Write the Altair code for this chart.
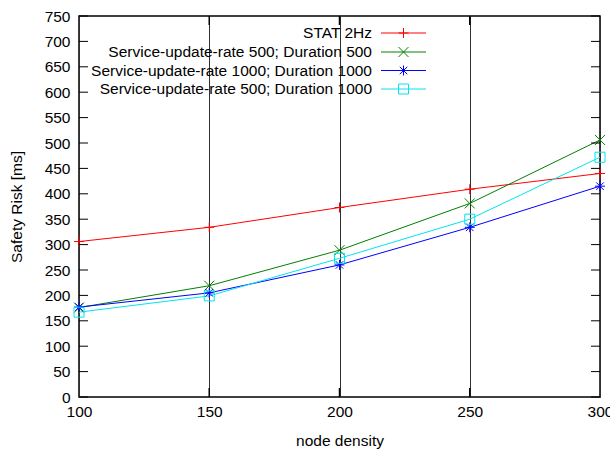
import altair as alt
import pandas as pd

# Measured safety risk per node density
density = [100, 150, 200, 250, 300]
stat_2hz = [306, 334, 373, 409, 440]
sur500_dur500 = [176, 219, 289, 381, 506]
sur1000_dur1000 = [177, 205, 260, 334, 415]
sur500_dur1000 = [167, 199, 273, 350, 472]

series_names = [
    "STAT 2Hz",
    "Service-update-rate 500; Duration 500",
    "Service-update-rate 1000; Duration 1000",
    "Service-update-rate 500; Duration 1000",
]
series_values = [stat_2hz, sur500_dur500, sur1000_dur1000, sur500_dur1000]
series_colors = ["#ff0000", "#008000", "#0000ff", "#00e5ee"]

# gnuplot-style point symbols: plus, cross, asterisk, open square
PLUS = "M-1,0L1,0M0,-1L0,1"
CROSS = "M-1,-1L1,1M-1,1L1,-1"
STAR = "M-1,0L1,0M0,-1L0,1M-0.75,-0.75L0.75,0.75M-0.75,0.75L0.75,-0.75"
series_shapes = [PLUS, CROSS, STAR, "square"]

x_ticks = [100, 150, 200, 250, 300]
y_ticks = list(range(0, 751, 50))

W, H = 521, 381
FONT = "Liberation Sans"
FS = 15.5

rows = []
for name, vals in zip(series_names, series_values):
    for d, v in zip(density, vals):
        rows.append({"density": d, "risk": v, "series": name})
df = pd.DataFrame(rows)

x_scale = alt.Scale(domain=[100, 300], nice=False, zero=False)
y_scale = alt.Scale(domain=[0, 750], nice=False)
color_scale = alt.Scale(domain=series_names, range=series_colors)
shape_scale = alt.Scale(domain=series_names, range=series_shapes)

x_axis = alt.Axis(values=x_ticks, title="node density", grid=True,
                  gridColor="#303030", gridWidth=1, gridOpacity=1,
                  ticks=False, domain=False, labelPadding=7,
                  titlePadding=14, labelFlush=False, labelOverlap=False)
y_axis = alt.Axis(values=y_ticks, title="Safety Risk [ms]", grid=False,
                  ticks=False, domain=False, labelPadding=9,
                  titlePadding=20, labelOverlap=False)


def xq(field):
    return alt.X(f"{field}:Q", scale=x_scale, axis=x_axis)


def yq(field):
    return alt.Y(f"{field}:Q", scale=y_scale, axis=y_axis)


lines = alt.Chart(df).mark_line(strokeWidth=1).encode(
    x=xq("density"), y=yq("risk"),
    color=alt.Color("series:N", scale=color_scale, legend=None),
    detail="series:N",
)
points = alt.Chart(df).mark_point(filled=False, size=100, strokeWidth=1, opacity=1).encode(
    x=xq("density"), y=yq("risk"),
    color=alt.Color("series:N", scale=color_scale, legend=None),
    shape=alt.Shape("series:N", scale=shape_scale, legend=None),
)

# Inward tick marks on all four sides
ytick_df = pd.DataFrame({"risk": y_ticks})
xtick_df = pd.DataFrame({"density": x_ticks[1:-1]})
tick_left = alt.Chart(ytick_df).mark_rule(color="black", strokeWidth=1).encode(
    y=yq("risk"), x=alt.value(0), x2=alt.value(9))
tick_right = alt.Chart(ytick_df).mark_rule(color="black", strokeWidth=1).encode(
    y=yq("risk"), x=alt.value(W - 9), x2=alt.value(W))
tick_top = alt.Chart(xtick_df).mark_rule(color="black", strokeWidth=1.5).encode(
    x=xq("density"), y=alt.value(0), y2=alt.value(9))
tick_bottom = alt.Chart(xtick_df).mark_rule(color="black", strokeWidth=1.5).encode(
    x=xq("density"), y=alt.value(H - 9), y2=alt.value(H))

# Key in the upper right: label, then line sample with its symbol
key_layers = []
row_y = [17, 36, 54.5, 73]
for name, col, shp, yy in zip(series_names, series_colors, series_shapes, row_y):
    kdf = pd.DataFrame({"series": [name]})
    key_layers.append(
        alt.Chart(kdf).mark_text(align="right", baseline="middle", fontSize=FS,
                                 font=FONT, color="black").encode(
            text="series:N", x=alt.value(293), y=alt.value(yy)))
    key_layers.append(
        alt.Chart(kdf).mark_rule(color=col, strokeWidth=1).encode(
            x=alt.value(302), x2=alt.value(347), y=alt.value(yy)))
    key_layers.append(
        alt.Chart(kdf).mark_point(filled=False, size=100, strokeWidth=1,
                                  color=col, shape=shp, opacity=1).encode(
            x=alt.value(324.5), y=alt.value(yy)))

chart = alt.layer(
    lines, points, tick_left, tick_right, tick_top, tick_bottom, *key_layers
).properties(
    width=W, height=H,
    autosize=alt.AutoSizeParams(type="none"),
    padding={"left": 79, "top": 16, "right": 10, "bottom": 57},
    background="white",
).configure_view(
    stroke="black", strokeWidth=1.5,
).configure_axis(
    labelFont=FONT, titleFont=FONT, labelFontSize=FS, titleFontSize=FS,
    labelColor="black", titleColor="black", titleFontWeight="normal",
)

chart.save("out.html", embed_options={"renderer": "svg", "actions": False})
